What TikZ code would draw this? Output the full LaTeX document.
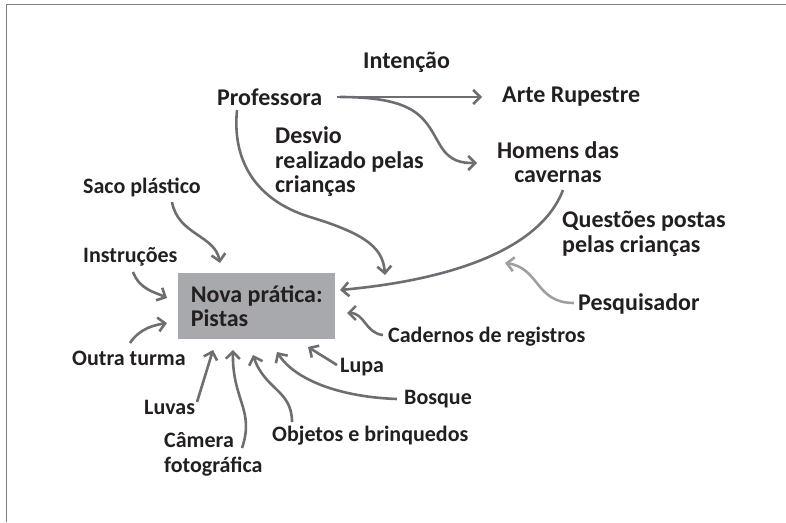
\documentclass[tikz,border=0pt]{standalone}
\usepackage{fontspec}
\setmainfont{Carlito}
\usetikzlibrary{arrows.meta,calc}
\definecolor{txt}{HTML}{231F20}
\definecolor{ln}{HTML}{6D6E71}
\definecolor{lnlight}{HTML}{9D9FA2}
\definecolor{boxfill}{HTML}{A7A9AC}
\definecolor{frame}{HTML}{808080}
\begin{document}
\begin{tikzpicture}[x=1pt,y=-1pt,
  lbl/.style={text=txt,font=\fontsize{22}{25}\selectfont\bfseries,inner sep=0pt,anchor=west,align=left},
  big/.style={lbl,font=\fontsize{24}{24.5}\selectfont\bfseries},
  conn/.style={draw=ln,line width=2.6pt,-{Straight Barb[length=7pt,width=14pt]}},
  connlight/.style={conn,draw=lnlight}]
\useasboundingbox (0,0) rectangle (786,522);
\draw[frame,line width=1.6pt] (6.5,522) -- (6.5,4.5) -- (786,4.5);
% nodes
\node[big] (int) at (363,62) {Intenção};
\node[big] (prof) at (217,97) {Professora};
\node[big] (arte) at (502,97) {Arte Rupestre};
\node[big,align=center,anchor=center] (hom) at (558,162) {Homens das\\cavernas};
\node[big] (desvio) at (275,162) {Desvio\\realizado pelas\\crianças};
\node[big] (quest) at (562,234) {Questões postas\\pelas crianças};
\node[big] (pesq) at (578,304) {Pesquisador};
\node[lbl] (saco) at (83,187) {Saco plástico};
\node[lbl] (instr) at (83,257) {Instruções};
\node[big,fill=boxfill,minimum width=157pt,minimum height=66pt,anchor=north west] (box) at (178,273) {Nova prática:\\Pistas};
\node[lbl] (outra) at (72,358) {Outra turma};
\node[lbl] (cad) at (388,337) {Cadernos de registros};
\node[lbl] (lupa) at (340,367) {Lupa};
\node[lbl] (bosque) at (404,399) {Bosque};
\node[lbl] (obj) at (272,436) {Objetos e brinquedos};
\node[lbl] (cam) at (164,454) {Câmera\\fotográfica};
\node[lbl] (luvas) at (144,407) {Luvas};
% free ends
\coordinate (pA) at (337,97);
\coordinate (tArte) at (482,97);
\coordinate (pB) at (340,97);
\coordinate (tHom) at (477,163);
\coordinate (pProf) at (237,110);
\coordinate (tDesvio) at (385,275);
\coordinate (pHom) at (563,190);
\coordinate (tBoxE) at (340,290);
\coordinate (pPesq) at (574,303);
\coordinate (tPesq) at (505,263);
\coordinate (pSaco) at (172,202);
\coordinate (tSaco) at (220,263);
\coordinate (pInstr) at (133,272);
\coordinate (tInstr) at (167,298);
\coordinate (pOutra) at (130,343);
\coordinate (tOutra) at (167,323);
\coordinate (pCad) at (383,335);
\coordinate (tCad) at (347,313);
\coordinate (pLupa) at (337,365);
\coordinate (tLupa) at (308,347);
\coordinate (pBosque) at (397,399);
\coordinate (tBosque) at (277,352);
\coordinate (pObj) at (292,422);
\coordinate (tObj) at (253,355);
\coordinate (pCam) at (242,448);
\coordinate (tCam) at (233,350);
\coordinate (pLuvas) at (197,402);
\coordinate (tLuvas) at (213,350);
% connectors
\draw[conn] (pA) -- (tArte);
\draw[conn] (pB) .. controls (420,97) and (425,120) .. (440,145) .. controls (450,162) and (462,163) .. (tHom);
\draw[conn] (pProf) .. controls (232,160) and (255,200) .. (310,217) .. controls (370,235) and (383,250) .. (tDesvio);
\draw[conn] (pHom) .. controls (540,250) and (450,280) .. (tBoxE);
\draw[connlight] (pPesq) .. controls (535,303) and (540,268) .. (tPesq);
\draw[conn] (pSaco) .. controls (178,235) and (215,235) .. (tSaco);
\draw[conn] (pInstr) .. controls (140,290) and (155,292) .. (tInstr);
\draw[conn] (pOutra) .. controls (140,328) and (155,325) .. (tOutra);
\draw[conn] (pCad) .. controls (365,333) and (365,313) .. (tCad);
\draw[conn] (pLupa) -- (tLupa);
\draw[conn] (pBosque) .. controls (340,397) and (295,380) .. (tBosque);
\draw[conn] (pObj) .. controls (292,390) and (265,390) .. (tObj);
\draw[conn] (pCam) .. controls (255,410) and (232,400) .. (tCam);
\draw[conn] (pLuvas) -- (tLuvas);
\end{tikzpicture}
\end{document}
